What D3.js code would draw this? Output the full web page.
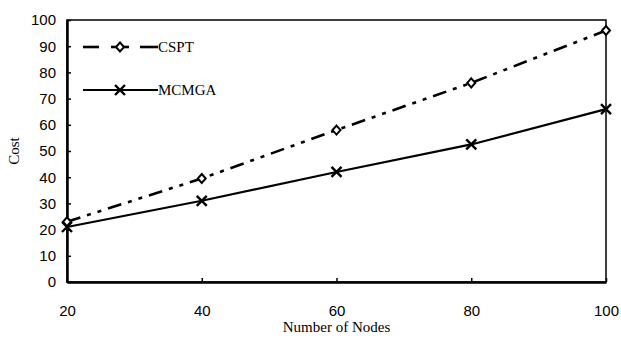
<!DOCTYPE html>
<html>
<head>
<meta charset="utf-8">
<script src="https://cdnjs.cloudflare.com/ajax/libs/d3/7.8.5/d3.min.js"></script>
<style>
  body { margin: 0; background: #fff; }
  svg { display: block; font-family: "Liberation Serif", "DejaVu Serif", serif; }
  .tick text { font-size: 15px; fill: #000; }
</style>
</head>
<body>
<svg id="chart" width="621" height="340"></svg>
<script>
var nodes = [20, 40, 60, 80, 100];
var cspt = [23, 39.5, 58, 76, 96];
var mcmga = [21, 31, 42, 52.5, 66];
var yTicks = [0, 10, 20, 30, 40, 50, 60, 70, 80, 90, 100];

var margin = { top: 20, right: 15, bottom: 58, left: 67 };
var svg = d3.select("#chart");
var width = 621 - margin.left - margin.right,
    height = 340 - margin.top - margin.bottom;
var g = svg.append("g").attr("transform", "translate(" + margin.left + "," + margin.top + ")");

var x = d3.scaleLinear().domain([20, 100]).range([0, width]);
var y = d3.scaleLinear().domain([0, 100]).range([height, 0]);

// frame
g.append("rect").attr("width", width).attr("height", height)
  .attr("fill", "none").attr("stroke", "#000").attr("stroke-width", 1.5);

var xAxis = g.append("g").attr("transform", "translate(0," + height + ")")
  .call(d3.axisBottom(x).tickValues(nodes).tickSizeInner(-4).tickSizeOuter(0).tickPadding(23));
var yAxis = g.append("g")
  .call(d3.axisLeft(y).tickValues(yTicks).tickSizeInner(-4).tickSizeOuter(0).tickPadding(11));
[xAxis, yAxis].forEach(function (a) {
  a.select(".domain").attr("stroke", "#000").attr("stroke-width", 2.5);
  a.selectAll(".tick line").attr("stroke", "#000").attr("stroke-width", 1.5);
});

var line = d3.line().x(function (d, i) { return x(nodes[i]); }).y(function (d) { return y(d); });

g.append("path").datum(cspt).attr("d", line)
  .attr("fill", "none").attr("stroke", "#000").attr("stroke-width", 2.6)
  .attr("stroke-dasharray", "14,7,4,7,4,7");
g.append("path").datum(mcmga).attr("d", line)
  .attr("fill", "none").attr("stroke", "#000").attr("stroke-width", 2.2);

function diamond(sel, cx, cy) {
  sel.append("path")
    .attr("d", "M" + cx + "," + (cy - 4.5) + "L" + (cx + 4) + "," + cy + "L" + cx + "," + (cy + 4.5) + "L" + (cx - 4) + "," + cy + "Z")
    .attr("fill", "#fff").attr("stroke", "#000").attr("stroke-width", 2);
}
function cross(sel, cx, cy) {
  sel.append("path")
    .attr("d", "M" + (cx - 5) + "," + (cy - 5) + "L" + (cx + 5) + "," + (cy + 5) + "M" + (cx + 5) + "," + (cy - 5) + "L" + (cx - 5) + "," + (cy + 5))
    .attr("stroke", "#000").attr("stroke-width", 2.4);
}
cspt.forEach(function (d, i) { diamond(g, x(nodes[i]), y(d)); });
mcmga.forEach(function (d, i) { cross(g, x(nodes[i]), y(d)); });

// legend
var leg = svg.append("g");
leg.append("line").attr("x1", 83).attr("x2", 99).attr("y1", 47).attr("y2", 47).attr("stroke", "#000").attr("stroke-width", 2.6);
leg.append("line").attr("x1", 111).attr("x2", 129).attr("y1", 47).attr("y2", 47).attr("stroke", "#000").attr("stroke-width", 2.6);
leg.append("line").attr("x1", 140).attr("x2", 158).attr("y1", 47).attr("y2", 47).attr("stroke", "#000").attr("stroke-width", 2.6);
diamond(leg, 120, 47);
leg.append("text").attr("x", 158).attr("y", 52).attr("font-size", 15).text("CSPT");
leg.append("line").attr("x1", 83).attr("x2", 158).attr("y1", 90).attr("y2", 90).attr("stroke", "#000").attr("stroke-width", 2.2);
cross(leg, 120, 90);
leg.append("text").attr("x", 158).attr("y", 95).attr("font-size", 15).text("MCMGA");

svg.append("text").attr("x", margin.left + width / 2).attr("y", 332)
  .attr("text-anchor", "middle").attr("font-size", 15).text("Number of Nodes");
svg.append("text").attr("transform", "translate(19," + (margin.top + height / 2) + ") rotate(-90)")
  .attr("text-anchor", "middle").attr("font-size", 15).text("Cost");
</script>
</body>
</html>
